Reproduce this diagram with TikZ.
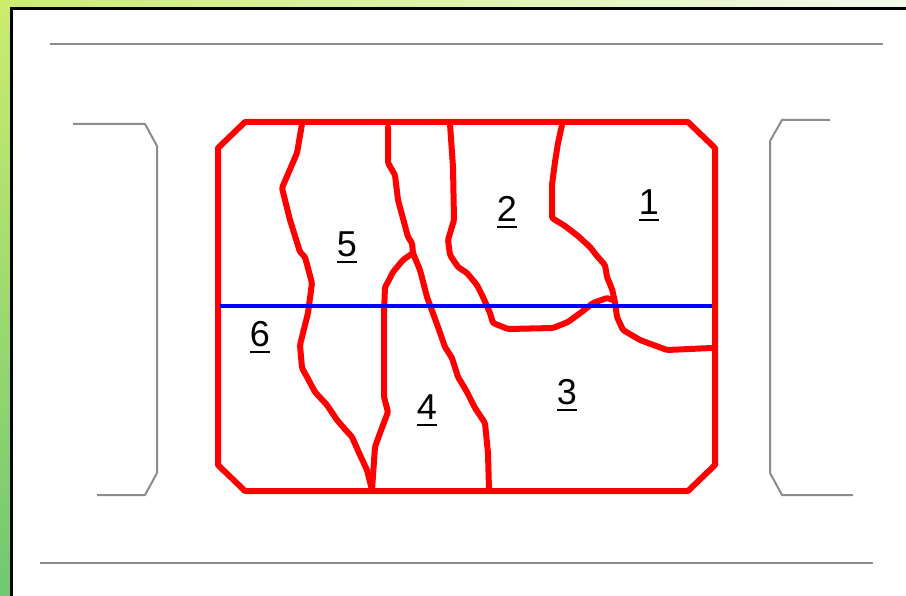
\documentclass[tikz,border=0pt]{standalone}
\usepackage{fontspec}
\setmainfont{Liberation Sans}
\definecolor{leaftop}{RGB}{204,236,112}
\definecolor{leafbot}{RGB}{112,200,112}
\definecolor{leafend}{RGB}{242,250,236}
\newcommand\zonenum[1]{\setbox0\hbox{#1}\vtop{\copy0\kern4pt\hrule height 2pt width\wd0}}

\begin{document}
\begin{tikzpicture}[x=1pt, y=-1pt,
        guide/.style={draw=black!45, line width=2pt},
        border/.style={draw=red, line width=6pt, line join=round, line cap=round},
        seam/.style={draw=red, line width=6pt, line join=round, line cap=round, rounded corners=1.5pt},
        zone/.style={anchor=base, inner sep=0pt, font=\fontsize{36}{40}\selectfont}]
        \useasboundingbox (0,0) rectangle (906,596);

        % background frame
        \shade[top color=leaftop, bottom color=leafbot] (0,0) rectangle (10,596);
        \shade[left color=leaftop, right color=leafend] (0,0) rectangle (906,8);
        \fill[white] (12,9.5) rectangle (906,596);
        \draw[line width=3.5pt] (11.5,596) -- (11.5,8.5) -- (906,8.5);

        % grey guides
        \draw[guide] (50,44) -- (883,44);
        \draw[guide] (40,563) -- (873,563);
        \draw[guide] (73,124) -- (145,124) -- (157,146) -- (157,473) -- (145,495) -- (97,495);
        \draw[guide] (830,120) -- (782,120) -- (770,141) -- (770,473) -- (782,495) -- (853,495);

        % outline
        \draw[border] (245,122) -- (688,122) -- (715,148) -- (715,465) -- (688,491)
            -- (245,491) -- (218,465) -- (218,148) -- cycle;

        % seams
        \draw[seam] (302,124) -- (297,153) -- (282,188) -- (290,220) -- (300,252) -- (305,257)
            -- (312,283) -- (308,313) -- (300,345) -- (302,368) -- (307,377) -- (315,392)
            -- (327,405) -- (337,420) -- (343,427) -- (352,437) -- (360,455) -- (367,470) -- (372,490);
        \draw[seam] (388,127) -- (388,163) -- (395,175) -- (398,200) -- (408,237) -- (412,243)
            -- (413,253) -- (420,270) -- (427,297) -- (438,327) -- (445,347) -- (452,358)
            -- (458,377) -- (467,392) -- (475,408) -- (485,423) -- (488,453) -- (489,490);
        \draw[seam] (413,253) -- (403,260) -- (393,272) -- (388,282) -- (385,287) -- (384,313)
            -- (384,397) -- (388,412) -- (380,433) -- (375,447) -- (372,490);
        \draw[seam] (450,124) -- (453,167) -- (454,220) -- (448,240) -- (450,255) -- (458,267)
            -- (467,273) -- (477,285) -- (483,297) -- (490,313) -- (493,323) -- (508,329)
            -- (553,328) -- (568,322) -- (583,311) -- (593,303) -- (607,298) -- (613,300);
        \draw[seam] (562,125) -- (558,143) -- (555,162) -- (552,185) -- (552,218) -- (565,226)
            -- (578,236) -- (590,247) -- (597,256) -- (605,265) -- (607,277) -- (612,289)
            -- (615,302) -- (617,317) -- (623,330) -- (640,340) -- (667,350) -- (712,348);

        % cut line
        \draw[blue, line width=3.5pt] (220,306) -- (712,306);

        % zone numbers
        \node[zone] (z1) at (649,215) {\zonenum{1}};
        \node[zone] (z2) at (507,222) {\zonenum{2}};
        \node[zone] (z3) at (567,405) {\zonenum{3}};
        \node[zone] (z4) at (427,420) {\zonenum{4}};
        \node[zone] (z5) at (347,257) {\zonenum{5}};
        \node[zone] (z6) at (260,347) {\zonenum{6}};
    \end{tikzpicture}
\end{document}
